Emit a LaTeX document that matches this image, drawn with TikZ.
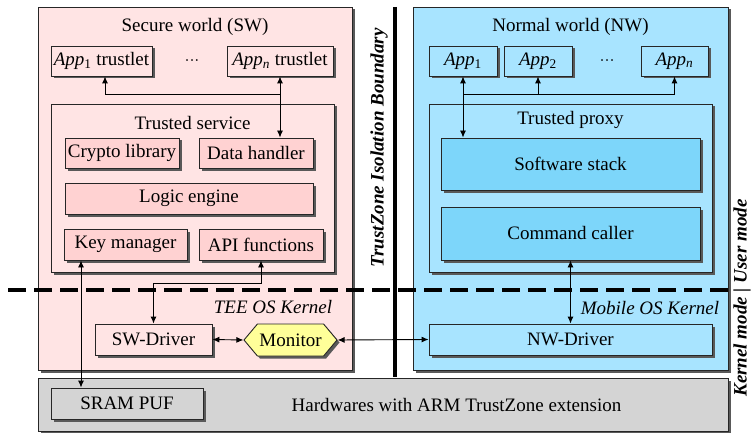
\documentclass[tikz,border=0pt]{standalone}
\usepackage{fontspec}
\setmainfont{Liberation Serif}
\usetikzlibrary{arrows.meta,shadows,shapes.symbols}
\definecolor{swbg}{RGB}{255,228,228}
\definecolor{swin}{RGB}{255,210,210}
\definecolor{nwbg}{RGB}{168,228,255}
\definecolor{nwin}{RGB}{125,214,250}
\definecolor{hwbg}{RGB}{212,212,212}
\definecolor{monbg}{RGB}{255,255,153}
\begin{document}
\begin{tikzpicture}[x=1pt,y=-1pt,
  font=\fontsize{19}{22}\selectfont,
  shad/.style={drop shadow={shadow xshift=2.5pt,shadow yshift=-2.5pt,fill=black!65,opacity=1}},
  box/.style={draw=black!85,line width=0.9pt,shad,inner sep=0pt,anchor=center},
  swout/.style={box,fill=swbg},
  swbox/.style={box,fill=swin},
  nwout/.style={box,fill=nwbg},
  nwbox/.style={box,fill=nwin},
  hwbox/.style={box,fill=hwbg},
  arr/.style={line width=0.9pt,-{Latex[length=7pt,width=6pt]}},
  dbl/.style={line width=0.9pt,{Latex[length=7pt,width=6pt]}-{Latex[length=7pt,width=6pt]}},
  lbl/.style={inner sep=0pt},
  kern/.style={inner sep=0pt,font=\fontsize{19}{22}\selectfont\itshape},
  side/.style={inner sep=0pt,font=\fontsize{19}{22}\selectfont\bfseries\itshape,rotate=90}
]
\useasboundingbox (0,0) rectangle (752,433);
% outer regions
\node[swout,minimum width=314pt,minimum height=363pt] (sw) at (195,188.5) {};
\node[nwout,minimum width=315pt,minimum height=363pt] (nw) at (570.5,188.5) {};
\node[hwbox,minimum width=690pt,minimum height=53pt] (hw) at (383,404.5) {};
\node[lbl] (swt) at (195,27) {Secure world (SW)};
\node[lbl] (nwt) at (570.5,27) {Normal world (NW)};
\node[lbl] (hwt) at (456.5,404.5) {Hardwares with ARM TrustZone extension};
% secure world
\node[swout,minimum width=101pt,minimum height=30pt] (sapp1) at (101.5,61) {\textit{App}\textsubscript{1} trustlet};
\node[swout,minimum width=106pt,minimum height=30pt] (sappn) at (280,61) {\textit{App}\textsubscript{\textit{n}} trustlet};
\node[lbl,font=\fontsize{15}{18}\selectfont] (sdots) at (192,63) {\textperiodcentered\textperiodcentered\textperiodcentered};
\node[swout,minimum width=283pt,minimum height=168pt] (ts) at (192.5,188) {};
\node[lbl] (tst) at (192.5,123) {Trusted service};
\node[swbox,minimum width=114pt,minimum height=30pt] (cl) at (122,153) {Crypto library};
\node[swbox,minimum width=114pt,minimum height=30pt] (dh) at (256,153) {Data handler};
\node[swbox,minimum width=248pt,minimum height=31pt] (le) at (189,198.5) {Logic engine};
\node[swbox,minimum width=123pt,minimum height=31pt] (km) at (125.5,244.5) {Key manager};
\node[swbox,minimum width=124pt,minimum height=31pt] (api) at (261,244.5) {API functions};
\node[swout,minimum width=117pt,minimum height=31pt] (swd) at (153.5,339.5) {SW-Driver};
\node[box,fill=monbg,signal,signal to=east and west,signal pointer angle=100,minimum width=93pt,minimum height=32pt] (mon) at (290.5,340) {Monitor};
\node[kern] (teek) at (273,307) {TEE OS Kernel};
% normal world
\node[nwout,minimum width=68pt,minimum height=30pt] (napp1) at (463,61) {\textit{App}\textsubscript{1}};
\node[nwout,minimum width=68pt,minimum height=30pt] (napp2) at (538,61) {\textit{App}\textsubscript{2}};
\node[nwout,minimum width=67pt,minimum height=30pt] (nappn) at (674.5,61) {\textit{App}\textsubscript{\textit{n}}};
\node[lbl,font=\fontsize{15}{18}\selectfont] (ndots) at (607,63) {\textperiodcentered\textperiodcentered\textperiodcentered};
\node[nwout,minimum width=283pt,minimum height=168pt] (tp) at (570.5,188) {};
\node[lbl] (tpt) at (570.5,120) {Trusted proxy};
\node[nwbox,minimum width=259pt,minimum height=52pt] (ss) at (570.5,164) {Software stack};
\node[nwbox,minimum width=259pt,minimum height=53pt] (cc) at (570.5,233.5) {Command caller};
\node[nwout,minimum width=283pt,minimum height=31pt] (nwd) at (570.5,339.5) {NW-Driver};
\node[kern] (mok) at (650,308) {Mobile OS Kernel};
% hardware
\node[hwbox,minimum width=152pt,minimum height=31pt] (puf) at (127,403.5) {SRAM PUF};
% boundaries
\coordinate (dl) at (8,290);
\coordinate (dr) at (731,290);
\draw[line width=3.5pt,dash pattern=on 18pt off 8pt] (dl) -- (dr);
\coordinate (bt) at (395,7);
\coordinate (bb) at (395,377);
\draw[line width=4pt] (bt) -- (bb);
\node[side] (tzib) at (379,148) {TrustZone Isolation Boundary};
\node[side] (modes) at (742,298) {Kernel mode | User mode};
% secure world connectors
\draw[dbl] (sappn.south) -- (sappn.south |- dh.north);
\draw[arr] (sappn.south |- 0,94) -| ([xshift=3.5pt]sapp1.south);
\draw[dbl] (api.south) -- ++(0,23) -| (swd.north);
\draw[dbl] ([xshift=-44.5pt]km.south) -- ([xshift=-44.5pt]km.south |- puf.north);
\draw[dbl] (swd.east) -- (mon.west);
\draw[dbl] (mon.east) -- (nwd.west);
% normal world connectors
\draw[dbl] (napp1.south) -- (napp1.south |- ss.north);
\draw[arr] (napp1.south |- 0,94) -| (napp2.south);
\draw[arr] (napp2.south |- 0,94) -| (nappn.south);
\draw[dbl] (cc.south) -- (nwd.north);
\end{tikzpicture}
\end{document}
